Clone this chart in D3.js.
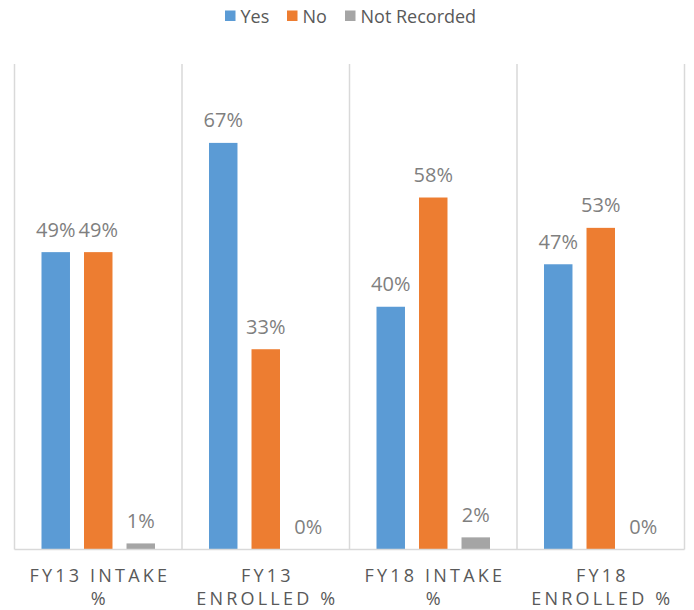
<!DOCTYPE html>
<html><head><meta charset="utf-8">
<script src="https://cdn.jsdelivr.net/npm/d3@7"></script>
<style>body{margin:0;background:#fff}svg{display:block}text{font-family:"Open Sans","Lato",sans-serif}</style>
</head><body><svg id="c" width="694" height="610"></svg>
<script>
const categories = [["FY13 INTAKE","%"],["FY13","ENROLLED %"],["FY18 INTAKE","%"],["FY18","ENROLLED %"]];
const series = ["Yes","No","Not Recorded"];
const yesValues = [49,67,40,47];
const noValues = [49,33,58,53];
const notRecordedValues = [1,0,2,0];
const colors = ["#5B9BD5","#ED7D31","#A5A5A5"];

const svg = d3.select("#c");
const m = {l:14.5,r:684.5,t:64,b:549.5};
const x = d3.scaleBand().domain(d3.range(categories.length)).range([m.l,m.r]);
const y = d3.scaleLinear().domain([0,80]).range([m.b,m.t]);
const inner = d3.scaleBand().domain(series).range([0,x.bandwidth()]).paddingInner(0.33).paddingOuter(0.635);

// gridlines (vertical category separators)
svg.append("g").selectAll("line").data(d3.range(categories.length+1)).join("line")
  .attr("x1",i=>i<categories.length?x(i):m.r).attr("x2",i=>i<categories.length?x(i):m.r)
  .attr("y1",m.t).attr("y2",m.b).attr("stroke","#d9d9d9").attr("stroke-width",1.5);

const vals = [yesValues,noValues,notRecordedValues];
series.forEach((s,si)=>{
  const g = svg.append("g");
  g.selectAll("rect").data(vals[si]).join("rect")
    .attr("x",(d,i)=>x(i)+inner(s)).attr("width",inner.bandwidth())
    .attr("y",d=>y(d)).attr("height",d=>y(0)-y(d)).attr("fill",colors[si]);
  g.selectAll("text").data(vals[si]).join("text")
    .attr("x",(d,i)=>x(i)+inner(s)+inner.bandwidth()/2).attr("y",d=>y(d)-15.5)
    .attr("text-anchor","middle").attr("font-size",20).attr("fill","#7f7f7f")
    .text(d=>d+"%");
});

// baseline
svg.append("line").attr("x1",m.l).attr("x2",m.r).attr("y1",m.b).attr("y2",m.b).attr("stroke","#d9d9d9").attr("stroke-width",1.5);

// category labels
const cl = svg.append("g").selectAll("text").data(categories).join("text")
  .attr("text-anchor","middle").attr("font-size",18).attr("fill","#595959").attr("letter-spacing","3.2px");
cl.each(function(d,i){
  d3.select(this).selectAll("tspan").data(d).join("tspan")
    .attr("x",x(i)+x.bandwidth()/2+1.6).attr("y",(t,j)=>582+j*23).text(t=>t);
});

// legend
const lg = svg.append("g");
const lx = [225,287,345];
series.forEach((s,i)=>{
  lg.append("rect").attr("x",lx[i]).attr("y",10.5).attr("width",10.5).attr("height",10.5).attr("fill",colors[i]);
  lg.append("text").attr("x",lx[i]+15.5).attr("y",22.5).attr("font-size",18).attr("fill","#595959").text(s);
});
</script></body></html>
